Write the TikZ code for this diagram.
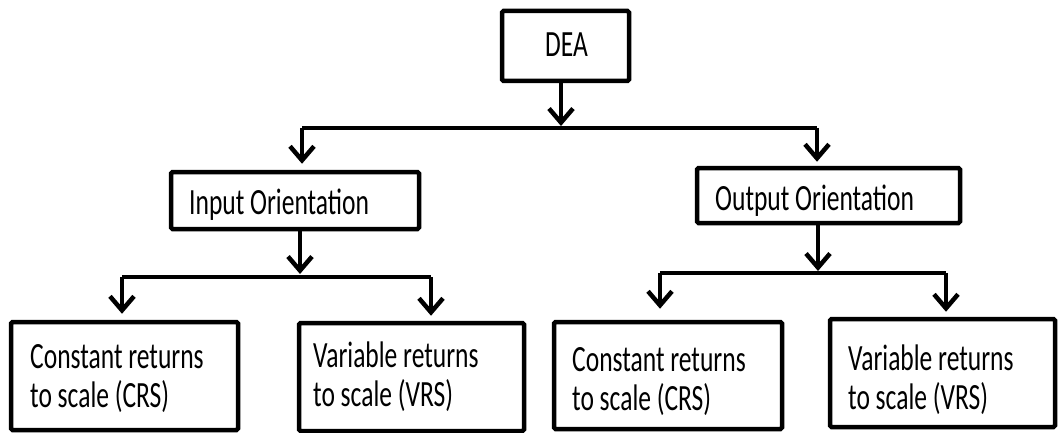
\documentclass[tikz,border=0pt]{standalone}
\usepackage{fontspec}
\setmainfont{Carlito}[FakeStretch=0.69]
\usetikzlibrary{arrows.meta}
\begin{document}
\begin{tikzpicture}[x=1pt,y=-1pt,
  box/.style={draw, line width=4.5pt, rounded corners=1.5pt, inner sep=0pt, fill=none},
  txt/.style={inner sep=0pt, anchor=base west, font=\fontsize{37}{39}\selectfont},
  bus/.style={line width=4.5pt},
  arr/.style={line width=4.5pt, -{Straight Barb[length=14pt,width=24pt]}}]
\useasboundingbox (0,0) rectangle (1060,433);
\fill[white] (0,0) rectangle (1060,433);
% boxes
\node[box, minimum width=127pt, minimum height=70pt] (dea) at (565.5,46) {};
\node[box, minimum width=248pt, minimum height=57pt] (in) at (295,200.5) {};
\node[box, minimum width=263pt, minimum height=55pt] (out) at (828.5,195.5) {};
\node[box, minimum width=227pt, minimum height=108pt] (crs1) at (124.5,376) {};
\node[box, minimum width=225pt, minimum height=108pt] (vrs1) at (411.5,377) {};
\node[box, minimum width=228pt, minimum height=107pt] (crs2) at (668,375.5) {};
\node[box, minimum width=225pt, minimum height=108pt] (vrs2) at (942.5,373) {};
% texts
\node[txt] (tdea) at (545,57) {DEA};
\node[txt] (tin) at (189,214) {Input Orientation};
\node[txt] (tout) at (715,210) {Output Orientation};
\node[txt] (tc1) at (30,368) {\begin{tabular}[t]{@{}l@{}}Constant returns\\to scale (CRS)\end{tabular}};
\node[txt] (tv1) at (313,367) {\begin{tabular}[t]{@{}l@{}}Variable returns\\to scale (VRS)\end{tabular}};
\node[txt] (tc2) at (572,371) {\begin{tabular}[t]{@{}l@{}}Constant returns\\to scale (CRS)\end{tabular}};
\node[txt] (tv2) at (848,370) {\begin{tabular}[t]{@{}l@{}}Variable returns\\to scale (VRS)\end{tabular}};
% bus 1
\coordinate (j1) at (561,128);
\coordinate (b1l) at (302,128);
\coordinate (b1r) at (817,128);
\draw[bus] (b1l) -- (b1r);
\draw[arr] (dea.south -| j1) -- ([yshift=2pt]j1);
\draw[arr] (b1l) -- ([yshift=6pt]in.north -| b1l);
\draw[arr] (b1r) -- ([yshift=4pt]out.north -| b1r);
% bus 2
\coordinate (j2) at (300,277);
\coordinate (b2l) at (122,277);
\coordinate (b2r) at (431,277);
\draw[bus] (b2l) -- (b2r);
\draw[arr] (in.south -| j2) -- ([yshift=3pt]j2);
\draw[arr] (b2l) -- ([yshift=6pt]crs1.north -| b2l);
\draw[arr] (b2r) -- ([yshift=5pt]vrs1.north -| b2r);
% bus 3
\coordinate (j3) at (818,273);
\coordinate (b3l) at (660,273);
\coordinate (b3r) at (946,273);
\draw[bus] (b3l) -- (b3r);
\draw[arr] (out.south -| j3) -- ([yshift=2pt]j3);
\draw[arr] (b3l) -- ([yshift=11pt]crs2.north -| b3l);
\draw[arr] (b3r) -- ([yshift=5pt]vrs2.north -| b3r);
\end{tikzpicture}
\end{document}
